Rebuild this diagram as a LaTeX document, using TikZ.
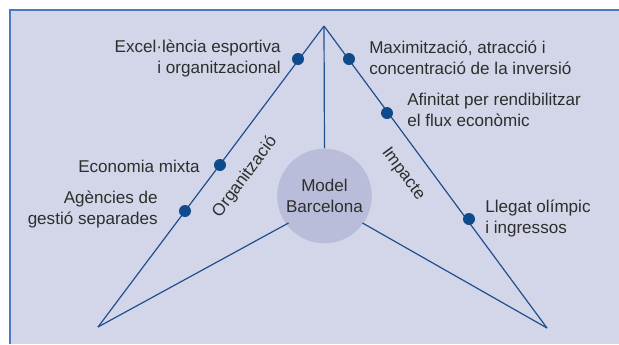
\documentclass[tikz,border=0pt]{standalone}
\usepackage{fontspec}
\setmainfont{Liberation Sans}
\definecolor{bgc}{HTML}{D3D6E8}
\definecolor{circc}{HTML}{BABDDA}
\definecolor{framec}{HTML}{4A7BBF}
\definecolor{linec}{HTML}{1F4F8F}
\definecolor{dotc}{HTML}{0E4A8C}
\definecolor{txtc}{HTML}{2E2E2E}
\begin{document}
\begin{tikzpicture}[x=0.75pt,y=-0.75pt,
  lbl/.style={font=\fontsize{12.8}{15.75}\selectfont, text=txtc, inner sep=0pt, align=#1},
  lbl/.default=left,
  dotn/.style={circle, fill=dotc, minimum size=9pt, inner sep=0pt},
  edge/.style={draw=linec, line width=0.9pt}]
\useasboundingbox (0,0) rectangle (619,344);
\fill[white] (0,0) rectangle (619,344);
\fill[bgc] (10,10) rectangle (619,344);
\draw[framec, line width=1.1pt] (10,344) -- (10,10) -- (619,10);

\coordinate (apex) at (324,26);
\coordinate (bl) at (98,327);
\coordinate (br) at (547,328);
\node[circle, fill=circc, minimum size=71pt, inner sep=0pt] (model) at (324.5,196) {};
\node[lbl=center] at (model) {Model\\Barcelona};

\draw[edge] (apex) -- (bl);
\draw[edge] (apex) -- (br);
\draw[edge] (apex) -- (model.north);
\draw[edge] (model) ++(-36,27) coordinate (ml) (ml) -- (bl);
\draw[edge] (model) ++(38,27) coordinate (mr) (mr) -- (br);

\node[dotn] (d1) at (298,59) {};
\node[dotn] (d2) at (220,165) {};
\node[dotn] (d3) at (185,211) {};
\node[dotn] (e1) at (349,59) {};
\node[dotn] (e2) at (387,113) {};
\node[dotn] (e3) at (469,219) {};

\node[lbl=right, anchor=east] (t1) at (281,58) {Excel·lència esportiva\\i organitzacional};
\node[lbl=right, anchor=east] (t2) at (200,166) {Economia mixta};
\node[lbl=right, anchor=east] (t3) at (158,209) {Agències de\\gestió separades};
\node[lbl=left, anchor=west] (u1) at (369,58) {Maximització, atracció i\\concentració de la inversió};
\node[lbl=left, anchor=west] (u2) at (407,110) {Afinitat per rendibilitzar\\el flux econòmic};
\node[lbl=left, anchor=west] (u3) at (485,218) {Llegat olímpic\\i ingressos};

\node[lbl=center, rotate=53.2] (org) at (245,177) {Organització};
\node[lbl=center, rotate=-53.5] (imp) at (403,174) {Impacte};
\end{tikzpicture}
\end{document}
